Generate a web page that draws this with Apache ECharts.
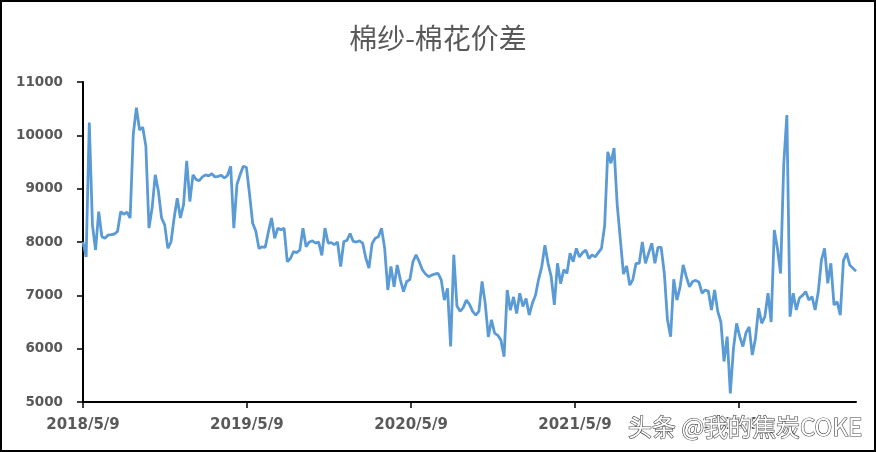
<!DOCTYPE html>
<html>
<head>
<meta charset="utf-8">
<script src="https://cdn.jsdelivr.net/npm/echarts@6/dist/echarts.min.js"></script>
<style>
html,body{margin:0;padding:0;background:#fff;}
#chart{width:876px;height:452px;}
</style>
</head>
<body>
<div id="chart"></div>
<script>
// Weekly observation dates
const dates = [
'2018-05-09','2018-05-16','2018-05-23','2018-05-30','2018-06-06','2018-06-13','2018-06-20','2018-06-27','2018-07-04','2018-07-11','2018-07-18','2018-07-25','2018-08-01','2018-08-08','2018-08-15','2018-08-22','2018-08-29','2018-09-05','2018-09-12','2018-09-19','2018-09-26','2018-10-03','2018-10-10','2018-10-17','2018-10-24','2018-10-31','2018-11-07','2018-11-14','2018-11-21','2018-11-28','2018-12-05','2018-12-12','2018-12-19','2018-12-26',
'2019-01-02','2019-01-09','2019-01-16','2019-01-23','2019-01-30','2019-02-06','2019-02-13','2019-02-20','2019-02-27','2019-03-06','2019-03-13','2019-03-20','2019-03-27','2019-04-03','2019-04-10','2019-04-17','2019-04-24','2019-05-01','2019-05-08','2019-05-15','2019-05-22','2019-05-29','2019-06-05','2019-06-12','2019-06-19','2019-06-26','2019-07-03','2019-07-10','2019-07-17','2019-07-24','2019-07-31','2019-08-07','2019-08-14','2019-08-21','2019-08-28','2019-09-04','2019-09-11','2019-09-18','2019-09-25','2019-10-02','2019-10-09','2019-10-16','2019-10-23','2019-10-30','2019-11-06','2019-11-13','2019-11-20','2019-11-27','2019-12-04','2019-12-11','2019-12-18','2019-12-25',
'2020-01-01','2020-01-08','2020-01-15','2020-01-22','2020-01-29','2020-02-05','2020-02-12','2020-02-19','2020-02-26','2020-03-04','2020-03-11','2020-03-18','2020-03-25','2020-04-01','2020-04-08','2020-04-15','2020-04-22','2020-04-29','2020-05-06','2020-05-13','2020-05-20','2020-05-27','2020-06-03','2020-06-10','2020-06-17','2020-06-24','2020-07-01','2020-07-08','2020-07-15','2020-07-22','2020-07-29','2020-08-05','2020-08-12','2020-08-19','2020-08-26','2020-09-02','2020-09-09','2020-09-16','2020-09-23','2020-09-30','2020-10-07','2020-10-14','2020-10-21','2020-10-28','2020-11-04','2020-11-11','2020-11-18','2020-11-25','2020-12-02','2020-12-09','2020-12-16','2020-12-23','2020-12-30',
'2021-01-06','2021-01-13','2021-01-20','2021-01-27','2021-02-03','2021-02-10','2021-02-17','2021-02-24','2021-03-03','2021-03-10','2021-03-17','2021-03-24','2021-03-31','2021-04-07','2021-04-14','2021-04-21','2021-04-28','2021-05-05','2021-05-12','2021-05-19','2021-05-26','2021-06-02','2021-06-09','2021-06-16','2021-06-23','2021-06-30','2021-07-07','2021-07-14','2021-07-21','2021-07-28','2021-08-04','2021-08-11','2021-08-18','2021-08-25','2021-09-01','2021-09-08','2021-09-15','2021-09-22','2021-09-29','2021-10-06','2021-10-13','2021-10-20','2021-10-27','2021-11-03','2021-11-10','2021-11-17','2021-11-24','2021-12-01','2021-12-08','2021-12-15','2021-12-22','2021-12-29',
'2022-01-05','2022-01-12','2022-01-19','2022-01-26','2022-02-02','2022-02-09','2022-02-16','2022-02-23','2022-03-02','2022-03-09','2022-03-16','2022-03-23','2022-03-30','2022-04-06','2022-04-13','2022-04-20','2022-04-27','2022-05-04','2022-05-11','2022-05-18','2022-05-25','2022-06-01','2022-06-08','2022-06-15','2022-06-22','2022-06-29','2022-07-06','2022-07-13','2022-07-20','2022-07-27','2022-08-03','2022-08-10','2022-08-17','2022-08-24','2022-08-31','2022-09-07','2022-09-14','2022-09-21','2022-09-28','2022-10-05','2022-10-12','2022-10-19','2022-10-26','2022-11-02','2022-11-09','2022-11-16','2022-11-23','2022-11-30','2022-12-07','2022-12-14','2022-12-21','2022-12-28',
'2023-01-04','2023-01-11','2023-01-18','2023-01-25'
];
// Cotton yarn - cotton spread (yuan/ton)
const spread = [
8000,7720,10240,8320,7850,8570,8100,8070,8130,8140,8150,8200,8570,8520,8560,8450,10020,10520,10100,10150,9800,8260,8640,9260,8950,8450,8320,7880,8000,8450,8820,8450,8700,9520,
8760,9260,9170,9150,9220,9260,9240,9280,9220,9230,9250,9200,9250,9420,8260,9080,9260,9420,9400,8900,8350,8200,7880,7910,7900,8190,8450,8070,8260,8230,8260,7630,7690,7820,7800,7850,8260,7910,8000,8020,7980,8000,7750,8260,7980,7990,7950,8000,7540,8010,8030,8160,
8010,8000,8020,7980,7700,7510,7970,8070,8100,8260,7880,7100,7540,7160,7570,7290,7070,7260,7290,7630,7760,7630,7480,7400,7350,7380,7400,7410,7290,6910,7130,6040,7760,6800,6700,6770,6910,6830,6700,6630,6700,7260,6850,6220,6540,6290,6250,6160,5850,7100,6720,6970,6660,
7040,6790,6940,6630,6850,7000,7300,7540,7940,7600,7350,6820,7600,7220,7480,7410,7790,7630,7880,7720,7800,7850,7690,7760,7720,7800,7880,8300,9690,9475,9760,8700,8050,7400,7550,7190,7300,7600,7600,8000,7600,7790,7975,7600,7900,7900,7410,6540,6225,7300,6910,7150,
7570,7350,7160,7260,7280,7250,7040,7100,7080,6725,7100,6700,6500,5760,6225,5160,6000,6475,6225,6040,6300,6410,5880,6190,6760,6475,6600,7040,6500,8225,7880,7410,9450,10380,6600,7040,6725,6950,7000,7070,6910,6975,6725,7070,7660,7880,7225,7600,6820,6880,6630,7650,
7790,7570,7510,7450
];
const tickLabels = ['2018/5/9','2019/5/9','2020/5/9','2021/5/9','2022/5/9'];
const titleText = '棉纱-棉花价差';
const watermark = '头条 @我的焦炭COKE';

function dayIndex(s) {
  const p = s.split(/[-\/]/).map(Number);
  return Math.round((Date.UTC(p[0], p[1] - 1, p[2]) - Date.UTC(2018, 4, 9)) / 86400000);
}
const seriesData = dates.map((d, i) => [dayIndex(d), spread[i]]);
const tickValues = tickLabels.map(dayIndex);
const labelMap = {};
tickLabels.forEach((l, i) => { labelMap[tickValues[i]] = l; });

const chart = echarts.init(document.getElementById('chart'), null, {renderer: 'canvas'});
chart.setOption({
  animation: false,
  backgroundColor: '#fff',
  title: {
    text: titleText,
    left: 'center',
    top: 19,
    textStyle: {fontFamily: 'Noto Sans CJK SC', fontSize: 28, fontWeight: 'normal', color: '#595959'}
  },
  grid: {left: 83, right: 20, top: 82, bottom: 50, containLabel: false},
  xAxis: {
    type: 'value',
    min: 0,
    max: dayIndex(dates[dates.length - 1]),
    axisLine: {lineStyle: {color: '#000', width: 2}},
    axisTick: {show: true, length: 6, lineStyle: {color: '#000', width: 1.5}, customValues: tickValues},
    axisLabel: {
      customValues: tickValues,
      formatter: v => labelMap[Math.round(v)] || '',
      color: '#595959', fontWeight: 'bold', fontSize: 15, fontFamily: 'DejaVu Sans', margin: 16
    },
    splitLine: {show: false}
  },
  yAxis: {
    type: 'value',
    min: 5000, max: 11000, interval: 1000,
    axisLine: {show: true, lineStyle: {color: '#000', width: 2}},
    axisTick: {show: true, length: 6, lineStyle: {color: '#000', width: 1.5}},
    axisLabel: {formatter: v => String(v), color: '#595959', fontWeight: 'bold', fontSize: 13.5, fontFamily: 'DejaVu Sans', margin: 20},
    splitLine: {show: false}
  },
  series: [{
    type: 'line',
    data: seriesData,
    showSymbol: false,
    symbol: 'none',
    lineStyle: {color: '#5B9BD5', width: 2.8},
    z: 3
  }],
  graphic: [
    {type: 'rect', shape: {x: 1, y: 1, width: 874, height: 450}, style: {fill: 'none', stroke: '#000', lineWidth: 2}, z: 100},
    {type: 'text', x: 628, y: 427, style: {text: watermark, fontFamily: 'Noto Sans CJK SC', fontSize: 24, fill: '#fff', stroke: 'rgba(255,255,255,0.85)', lineWidth: 4, verticalAlign: 'middle'}, z: 101},
    {type: 'text', x: 628, y: 427, style: {text: watermark, fontFamily: 'Noto Sans CJK SC', fontSize: 24, fill: '#fff', stroke: '#444', lineWidth: 1.2, verticalAlign: 'middle'}, z: 102}
  ]
});
</script>
</body>
</html>
